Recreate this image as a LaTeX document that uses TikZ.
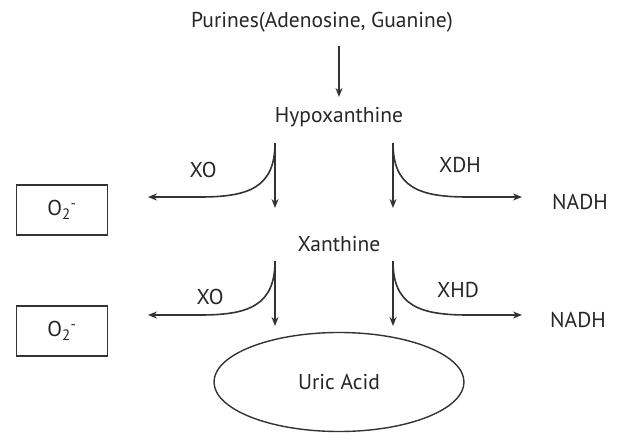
\documentclass[tikz,border=0pt]{standalone}
\usepackage{fontspec}
\setmainfont{PT Sans}
\usetikzlibrary{shapes.geometric,arrows.meta}

\begin{document}
\begin{tikzpicture}[x=1pt,y=1pt,
    lbl/.style={font=\fontsize{21.5}{24}\selectfont,text=black!85},
    flow/.style={line width=1.6pt,draw=black!80,-{Stealth[length=9pt,width=7pt]}}]

    \useasboundingbox (0,0) rectangle (640,440);

    \node[lbl] (pur) at (322,418) {Purines(Adenosine, Guanine)};
    \node[lbl] (hypo) at (339,323) {Hypoxanthine};
    \node[lbl] (xan) at (339,196) {Xanthine};
    \node[lbl,draw=black!80,line width=1.4pt,ellipse,minimum width=250pt,minimum height=99pt] (uric) at (339,58) {Uric Acid};

    \draw[flow] (hypo.north |- 0,394) -- (hypo.north |- 0,343);

    \begin{scope}

      \node[lbl,draw=black!80,line width=1.4pt,minimum width=91pt,minimum height=50pt] (oxa) at (62,230) {O\textsubscript{2}\textsuperscript{-}};
      \node[lbl] (nadha) at (580,238) {NADH};
      \node[lbl] (xoa) at (203,270) {XO};
      \node[lbl] (xdha) at (460,275) {XDH};
      \coordinate (la) at (275,297);
      \coordinate (ra) at (393,297);
      \coordinate (oa) at (148,243);
      \coordinate (na) at (522,243);
      \draw[flow] (la) -- ++(0,-65);
      \draw[flow] (ra) -- ++(0,-65);
      \draw[flow] (la) .. controls (275,252) and (248,243) .. (200,243) -- (oa);
      \draw[flow] (ra) .. controls (393,252) and (420,243) .. (468,243) -- (na);

    \end{scope}

    \begin{scope}[yshift=-118pt]

      \node[lbl,draw=black!80,line width=1.4pt,minimum width=91pt,minimum height=50pt] (oxb) at (62,227) {O\textsubscript{2}\textsuperscript{-}};
      \node[lbl] (nadhb) at (578,238) {NADH};
      \node[lbl] (xob) at (210,261) {XO};
      \node[lbl] (xhdb) at (458,268) {XHD};
      \coordinate (lb) at (275,297);
      \coordinate (rb) at (393,297);
      \coordinate (ob) at (148,243);
      \coordinate (nb) at (522,243);
      \draw[flow] (lb) -- ++(0,-65);
      \draw[flow] (rb) -- ++(0,-65);
      \draw[flow] (lb) .. controls (275,252) and (248,243) .. (200,243) -- (ob);
      \draw[flow] (rb) .. controls (393,252) and (420,243) .. (468,243) -- (nb);

    \end{scope}

  \end{tikzpicture}
\end{document}
